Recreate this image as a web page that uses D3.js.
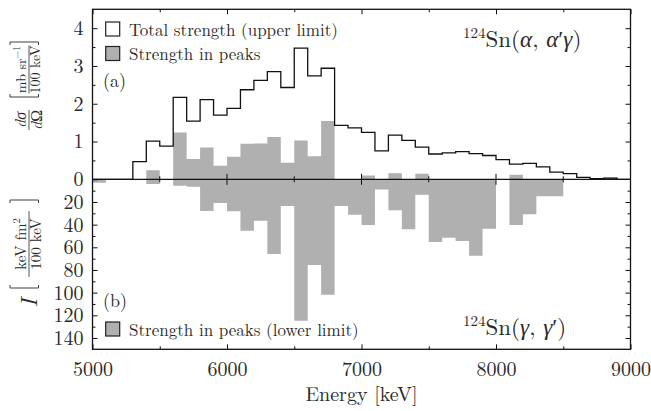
<!DOCTYPE html>
<html>
<head>
<meta charset="utf-8">
<script src="https://cdn.jsdelivr.net/npm/d3@7"></script>
</head>
<body style="margin:0;background:#fff">
<svg id="chart" width="651" height="411" style="display:block"></svg>
<script>
// Energy bins (lower edge, keV), 100 keV wide
const binStart = [5000, 5100, 5200, 5300, 5400, 5500, 5600, 5700, 5800, 5900,
                  6000, 6100, 6200, 6300, 6400, 6500, 6600, 6700, 6800, 6900,
                  7000, 7100, 7200, 7300, 7400, 7500, 7600, 7700, 7800, 7900,
                  8000, 8100, 8200, 8300, 8400, 8500, 8600, 8700, 8800, 8900];
const binWidth = 100;

// (a) 124Sn(alpha, alpha' gamma): total strength (upper limit), mb/sr per 100 keV
const totalStrength = [0, 0, 0, 0.47, 1.01, 0.88, 2.17, 1.54, 2.11, 1.70,
                       1.88, 2.37, 2.62, 2.85, 2.43, 3.47, 2.74, 2.94, 1.43, 1.36,
                       1.24, 0.75, 1.17, 1.03, 0.85, 0.67, 0.70, 0.73, 0.68, 0.63,
                       0.52, 0.40, 0.42, 0.33, 0.19, 0.15, 0.05, 0.02, 0.03, 0];
// (a) strength in peaks
const peaksAlpha = [0, 0, 0, 0, 0.24, 0, 1.24, 0.54, 0.84, 0.36,
                    0.60, 0.94, 0.95, 1.12, 0.44, 1.03, 0.61, 1.54, 0, 0,
                    0.10, 0, 0.16, 0, 0.15, 0, 0, 0, 0, 0,
                    0, 0.12, 0, 0, 0, 0, 0, 0, 0.05, 0];
// (b) 124Sn(gamma, gamma'): strength in peaks (lower limit), keV fm^2 per 100 keV
const peaksGamma = [3.0, 0, 0, 0, 4.1, 0, 5.6, 6.5, 28, 21,
                    28.2, 45.3, 36.5, 66, 23.6, 124.8, 75.6, 101.8, 23.6, 31.2,
                    40.3, 9.1, 27.4, 44.1, 13.6, 55.3, 51.5, 54.5, 67.4, 43.6,
                    0, 40.3, 30.9, 15, 15, 0, 0, 0, 0, 0];

// Axis ticks
const xTicks = [5000, 6000, 7000, 8000, 9000];
const xMinorTicks = [5500, 6500, 7500, 8500];
const yTopTicks = [0, 1, 2, 3, 4];
const yTopMinorTicks = [0.5, 1.5, 2.5, 3.5];
const yBotTicks = [20, 40, 60, 80, 100, 120, 140];
const yBotMinorTicks = [10, 30, 50, 70, 90, 110, 130];

const svg = d3.select("#chart");
const pLeft = 92.5, pRight = 630.5, pTop = 9.3, pMid = 179.3, pBottom = 349.3;
const gray = "#b0b0b0";
const ink = "#2a2a2a";
const roman = '"Latin Modern Roman", "Liberation Serif", serif';
const greek = '"Liberation Serif", serif';

const x = d3.scaleLinear().domain([5000, 9000]).range([pLeft, pRight]);
const yTop = d3.scaleLinear().domain([0, 4.5]).range([pMid, pTop]);
const yBot = d3.scaleLinear().domain([0, 150]).range([pMid, pBottom]);

function setFont(sel, size) {
  return sel.style("font-family", roman).style("font-size", size + "px").style("fill", ink);
}

// step series: one point per bin edge, closing at the upper edge of the last bin
function steps(values) {
  const pts = binStart.map((e, i) => ({ e, v: values[i] }));
  pts.push({ e: binStart[binStart.length - 1] + binWidth, v: values[values.length - 1] });
  return pts;
}

// grey peak strengths above (a) and below (b) the zero line
svg.append("path")
  .datum(steps(peaksAlpha))
  .attr("fill", gray)
  .attr("d", d3.area().curve(d3.curveStepAfter)
    .x(d => x(d.e)).y0(yTop(0)).y1(d => yTop(d.v)));

svg.append("path")
  .datum(steps(peaksGamma))
  .attr("fill", gray)
  .attr("d", d3.area().curve(d3.curveStepAfter)
    .x(d => x(d.e)).y0(yBot(0)).y1(d => yBot(d.v)));

// total strength as an open histogram
svg.append("path")
  .datum(steps(totalStrength))
  .attr("fill", "none")
  .attr("stroke", "#111")
  .attr("stroke-width", 1.3)
  .attr("d", d3.line().curve(d3.curveStepAfter)
    .x(d => x(d.e)).y(d => yTop(d.v)));

// zero line with crossing ticks
const zero = svg.append("g");
zero.append("line")
  .attr("x1", pLeft).attr("x2", pRight).attr("y1", pMid).attr("y2", pMid)
  .attr("stroke", "#111").attr("stroke-width", 1.3);
zero.selectAll("line.major").data(xTicks.slice(1, -1)).join("line")
  .attr("class", "major")
  .attr("x1", d => x(d)).attr("x2", d => x(d))
  .attr("y1", pMid - 5.5).attr("y2", pMid + 5.5)
  .attr("stroke", "#111").attr("stroke-width", 1);
zero.selectAll("line.minor").data(xMinorTicks).join("line")
  .attr("class", "minor")
  .attr("x1", d => x(d)).attr("x2", d => x(d))
  .attr("y1", pMid - 3).attr("y2", pMid + 3)
  .attr("stroke", "#111").attr("stroke-width", 1);

// axes, ticks pointing inwards
const fmt = d3.format("d");
function axisPair(make, scale, pos, major, minor, labels, pad) {
  const gMajor = svg.append("g").attr("transform", pos)
    .call(make(scale).tickValues(major).tickFormat(fmt).tickSizeInner(-5).tickSizeOuter(0).tickPadding(pad || 3));
  const gMinor = svg.append("g").attr("transform", pos)
    .call(make(scale).tickValues(minor).tickSizeInner(-3).tickSizeOuter(0));
  [gMajor, gMinor].forEach(g => {
    g.select(".domain").remove();
    g.selectAll(".tick line").attr("stroke", "#111");
  });
  gMinor.selectAll(".tick text").remove();
  if (labels) setFont(gMajor.selectAll(".tick text"), 20);
  else gMajor.selectAll(".tick text").remove();
}
axisPair(d3.axisLeft, yTop, `translate(${pLeft},0)`, yTopTicks, yTopMinorTicks, true, 9);
axisPair(d3.axisLeft, yBot, `translate(${pLeft},0)`, yBotTicks, yBotMinorTicks, true, 9);
axisPair(d3.axisRight, yTop, `translate(${pRight},0)`, yTopTicks.slice(1), yTopMinorTicks, false);
axisPair(d3.axisRight, yBot, `translate(${pRight},0)`, yBotTicks, yBotMinorTicks, false);
axisPair(d3.axisBottom, x, `translate(0,${pBottom})`, xTicks, xMinorTicks, true, 13);
axisPair(d3.axisTop, x, `translate(0,${pTop})`, xTicks, xMinorTicks, false);

// frame
svg.append("rect")
  .attr("x", pLeft).attr("y", pTop)
  .attr("width", pRight - pLeft).attr("height", pBottom - pTop)
  .attr("fill", "none").attr("stroke", "#111").attr("stroke-width", 1.3);

// x axis title
setFont(svg.append("text"), 20)
  .attr("x", (pLeft + pRight) / 2).attr("y", 401)
  .attr("text-anchor", "middle")
  .text("Energy [keV]");

// legends and panel tags
const legend = [
  { y: 22, fill: "none", label: "Total strength (upper limit)" },
  { y: 46.5, fill: gray, label: "Strength in peaks" },
  { y: 322, fill: gray, label: "Strength in peaks (lower limit)" }
];
legend.forEach(l => {
  svg.append("rect")
    .attr("x", 105.7).attr("y", l.y).attr("width", 14).attr("height", 14)
    .attr("fill", l.fill).attr("stroke", "#222").attr("stroke-width", 1.2);
  setFont(svg.append("text"), 17)
    .attr("x", 129).attr("y", l.y + 13.5)
    .text(l.label);
});
setFont(svg.append("text"), 18).attr("x", 103).attr("y", 87).text("(a)");
setFont(svg.append("text"), 18).attr("x", 103).attr("y", 307).text("(b)");

// mixed text: roman pieces, italic greek / symbols
function rich(t, parts, size) {
  parts.forEach(p => {
    const s = t.append("tspan").text(p.t);
    if (p.g) s.style("font-family", greek);
    if (p.i) s.style("font-style", "italic");
    if (p.sup) s.attr("dy", -size * 0.38).style("font-size", (size * 0.7) + "px");
  });
}

// reaction labels
function reaction(xPos, yPos, parts) {
  const t = setFont(svg.append("text"), 23).attr("x", xPos).attr("y", yPos);
  t.append("tspan").attr("dy", -9).style("font-size", "15px").text("124");
  t.append("tspan").attr("dy", 9).text("Sn(");
  rich(t, parts, 23);
}
reaction(463, 47, [{ t: "α", i: true, g: true }, { t: ", " }, { t: "α", i: true, g: true }, { t: "′", g: true }, { t: "γ", i: true, g: true }, { t: ")" }]);
reaction(463, 335, [{ t: "γ", i: true, g: true }, { t: ", " }, { t: "γ", i: true, g: true }, { t: "′", g: true }, { t: ")" }]);

// rotated y axis titles built from stacked fractions
function fraction(g, cx, num, den, size, barW) {
  const n = setFont(g.append("text"), size).attr("x", cx).attr("y", -3).attr("text-anchor", "middle");
  rich(n, num, size);
  g.append("line").attr("x1", cx - barW / 2).attr("x2", cx + barW / 2)
    .attr("y1", 0.5).attr("y2", 0.5).attr("stroke", ink).attr("stroke-width", 0.8);
  const d = setFont(g.append("text"), size).attr("x", cx).attr("y", size * 0.82).attr("text-anchor", "middle");
  rich(d, den, size);
}
function brackets(g, x0, x1, y0, y1) {
  g.append("path")
    .attr("d", `M${x0 + 3},${y0}H${x0}V${y1}H${x0 + 3}M${x1 - 3},${y0}H${x1}V${y1}H${x1 - 3}`)
    .attr("fill", "none").attr("stroke", ink).attr("stroke-width", 0.9);
}

const labA = svg.append("g").attr("transform", "translate(28.5,88) rotate(-90)");
fraction(labA, -32, [{ t: "d", i: true }, { t: "σ", i: true, g: true }], [{ t: "d", i: true }, { t: "Ω", g: true }], 16, 20);
brackets(labA, -9, 46, -18.5, 10);
fraction(labA, 18.5, [{ t: "mb sr" }, { t: "−1", sup: true }], [{ t: "100 keV" }], 14, 48);

const labB = svg.append("g").attr("transform", "translate(28.5,256) rotate(-90)");
setFont(labB.append("text"), 23).attr("x", -47).attr("y", 8).attr("text-anchor", "middle")
  .style("font-style", "italic").text("I");
brackets(labB, -32, 56, -18.5, 10);
fraction(labB, 12, [{ t: "keV fm" }, { t: "2", sup: true }], [{ t: "100 keV" }], 15, 66);
</script>
</body>
</html>
